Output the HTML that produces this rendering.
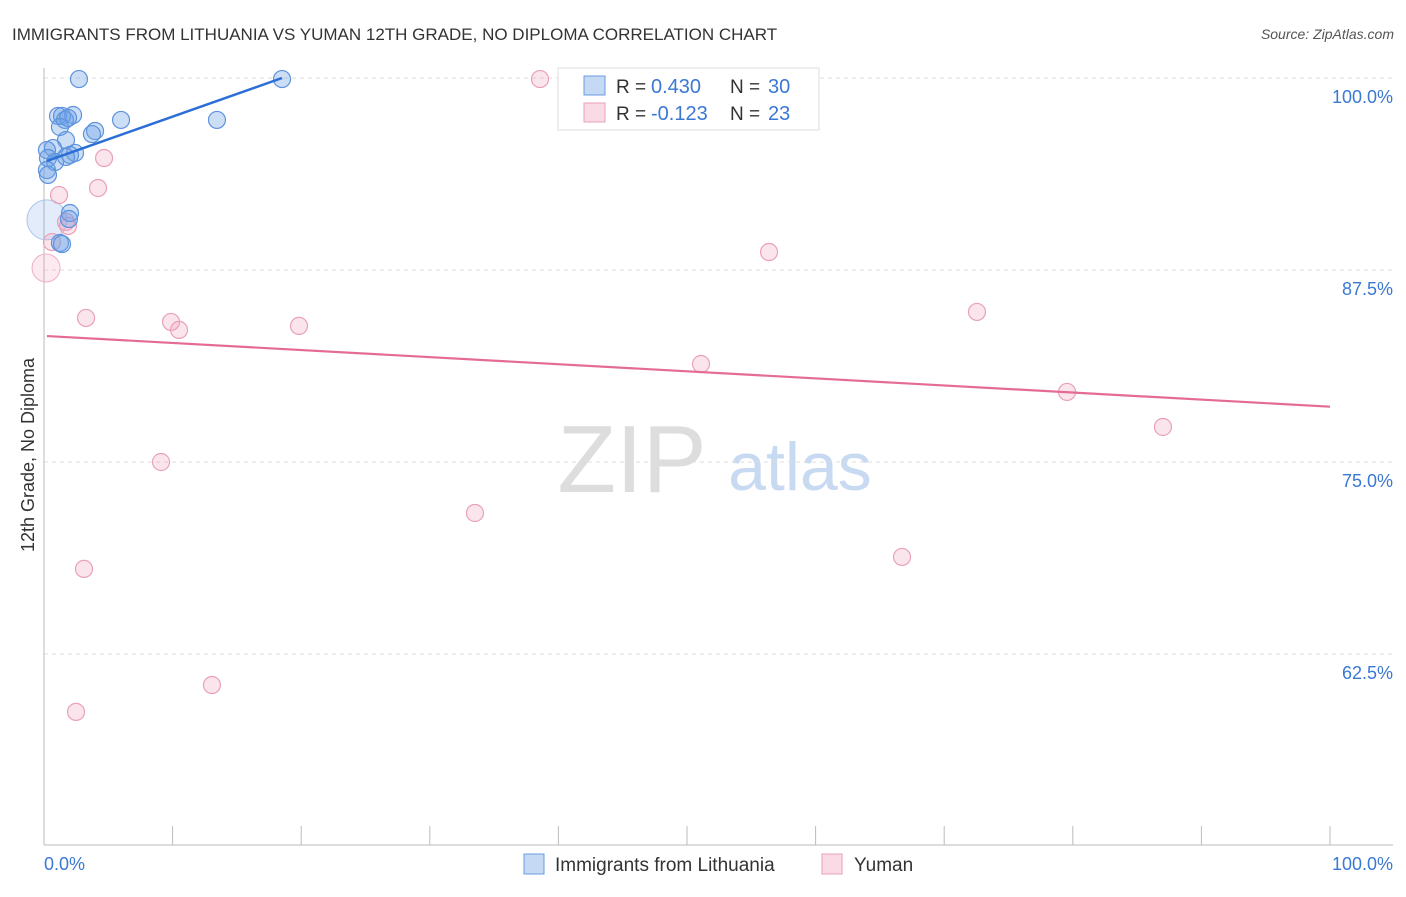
<!DOCTYPE html>
<html><head><meta charset="utf-8"><style>
body{margin:0;background:#fff;font-family:"Liberation Sans",sans-serif}
text{font-family:"Liberation Sans",sans-serif}
</style></head><body>
<svg id="c" width="1406" height="892"></svg>
<script>
const blueX=[2.72,18.51,1.09,1.40,2.26,1.63,1.87,5.99,13.45,1.24,3.97,3.73,1.71,0.70,0.23,2.41,2.02,0.31,0.86,1.71,0.23,0.31,2.02,1.94,1.24,1.40];
const blueY=[99.93,99.93,97.53,97.53,97.59,97.27,97.40,97.27,97.27,96.81,96.55,96.35,95.96,95.44,95.31,95.12,94.99,94.79,94.53,94.86,94.01,93.69,91.21,90.82,89.26,89.19];
const pinkX=[38.57,4.67,4.20,1.17,1.87,1.71,0.62,56.38,72.55,3.27,9.88,10.50,19.83,51.09,79.55,87.01,9.10,33.51,66.72,3.11,13.06,2.49];
const pinkY=[99.93,94.79,92.84,92.38,90.37,90.63,89.32,88.67,84.77,84.38,84.12,83.60,83.86,81.38,79.56,77.28,75.00,71.68,68.82,68.04,60.48,58.73];
const bigBlue=[0.23,90.76];const bigPink=[0.16,87.63];
const blueTrend=[[0.23,94.6],[18.51,100]];
const pinkTrend=[[0.23,83.2],[100,78.6]];
const yTicks=[100,87.5,75,62.5];
const yTickLabels=["100.0%","87.5%","75.0%","62.5%"];
const svg=document.getElementById('c');const NS='http://www.w3.org/2000/svg';
const sx=v=>44+v*12.86, sy=v=>78+(100-v)*192/12.5;
function el(t,a,p){const e=document.createElementNS(NS,t);for(const k in a)e.setAttribute(k,a[k]);(p||svg).appendChild(e);return e;}
function tx(x,y,s,a,p){const e=el('text',Object.assign({x:x,y:y},a),p);e.textContent=s;return e;}
let t=tx(12,40,"IMMIGRANTS FROM LITHUANIA VS YUMAN 12TH GRADE, NO DIPLOMA CORRELATION CHART",{'font-size':17,fill:'#333'});


t=tx(1394,39,"Source: ZipAtlas.com",{'font-size':14,fill:'#555','text-anchor':'end','font-style':'italic'});


t=tx(632,492,"ZIP",{'font-size':96,fill:'#ddd','font-family':'Liberation Serif','text-anchor':'middle'});


t=tx(800,490,"atlas",{'font-size':68,fill:'#c8daf2','text-anchor':'middle'});


yTicks.forEach((v,i)=>{
 const g=el('line',{x1:44,x2:1393,y1:sy(v),y2:sy(v),stroke:'#ddd','stroke-dasharray':'4,4'});
 
 
 const l=tx(1393,sy(v)+25,yTickLabels[i],{'font-size':18,fill:'#3a78d4','text-anchor':'end'});
 
 
});
let a=el('line',{x1:44,x2:44,y1:68,y2:845,stroke:'#bbb'});


a=el('line',{x1:44,x2:1393,y1:845,y2:845,stroke:'#bbb'});


for(let i=0;i<=10;i++){const k=el('line',{x1:sx(i*10),x2:sx(i*10),y1:826,y2:845,stroke:'#bbb'});
 
 }
t=tx(44,870,"0.0%",{'font-size':18,fill:'#3a78d4'});


t=tx(1393,870,"100.0%",{'font-size':18,fill:'#3a78d4','text-anchor':'end'});


t=tx(0,0,"12th Grade, No Diploma",{'font-size':18,fill:'#333','text-anchor':'middle',transform:'translate(34,455) rotate(-90)'});


function pts(X,Y,fill,stroke,name){X.forEach((x,i)=>{const c=el('circle',{cx:sx(x),cy:sy(Y[i]),r:8.5,fill:fill,stroke:stroke,'stroke-width':1.2});
 
 });}
let b=el('circle',{cx:sx(bigPink[0]),cy:sy(bigPink[1]),r:14,fill:'rgba(240,150,180,0.2)',stroke:'#f0b0c6'});


b=el('circle',{cx:sx(bigBlue[0]),cy:sy(bigBlue[1]),r:20,fill:'rgba(110,160,230,0.2)',stroke:'#a9c6ee'});


pts(pinkX,pinkY,'rgba(240,150,180,0.25)','#eaa0bb','yuman-point');
pts(blueX,blueY,'rgba(110,160,230,0.35)','#5d93dd','lithuania-point');
let tl=el('line',{x1:sx(blueTrend[0][0]),y1:sy(blueTrend[0][1]),x2:sx(blueTrend[1][0]),y2:sy(blueTrend[1][1]),stroke:'#2b6fd6','stroke-width':2.5});


tl=el('line',{x1:sx(pinkTrend[0][0]),y1:sy(pinkTrend[0][1]),x2:sx(pinkTrend[1][0]),y2:sy(pinkTrend[1][1]),stroke:'#e56b97','stroke-width':2.2});


const lg=el('g',{});


el('rect',{x:558,y:68,width:261,height:62,fill:'#fff',stroke:'#ddd'},lg);
el('rect',{x:584,y:76,width:21,height:19,fill:'rgba(110,160,230,0.4)',stroke:'#6a9be0'},lg);
el('rect',{x:584,y:103,width:21,height:19,fill:'rgba(240,150,180,0.35)',stroke:'#eaa0bb'},lg);
[["R = ","0.430","30",93],["R = ","-0.123","23",120]].forEach(r=>{
 tx(616,r[3],r[0],{'font-size':19,fill:'#333'},lg);
 tx(651,r[3],r[1],{'font-size':20,fill:'#3a78d4'},lg);
 tx(730,r[3],"N = ",{'font-size':19,fill:'#333'},lg);
 tx(768,r[3],r[2],{'font-size':20,fill:'#3a78d4'},lg);
});
const bl=el('g',{});


el('rect',{x:524,y:854,width:20,height:20,fill:'rgba(110,160,230,0.4)',stroke:'#6a9be0'},bl);
tx(555,871,"Immigrants from Lithuania",{'font-size':19,fill:'#333'},bl);
el('rect',{x:822,y:854,width:20,height:20,fill:'rgba(240,150,180,0.35)',stroke:'#eaa0bb'},bl);
tx(854,871,"Yuman",{'font-size':19,fill:'#333'},bl);
</script>
</body></html>
